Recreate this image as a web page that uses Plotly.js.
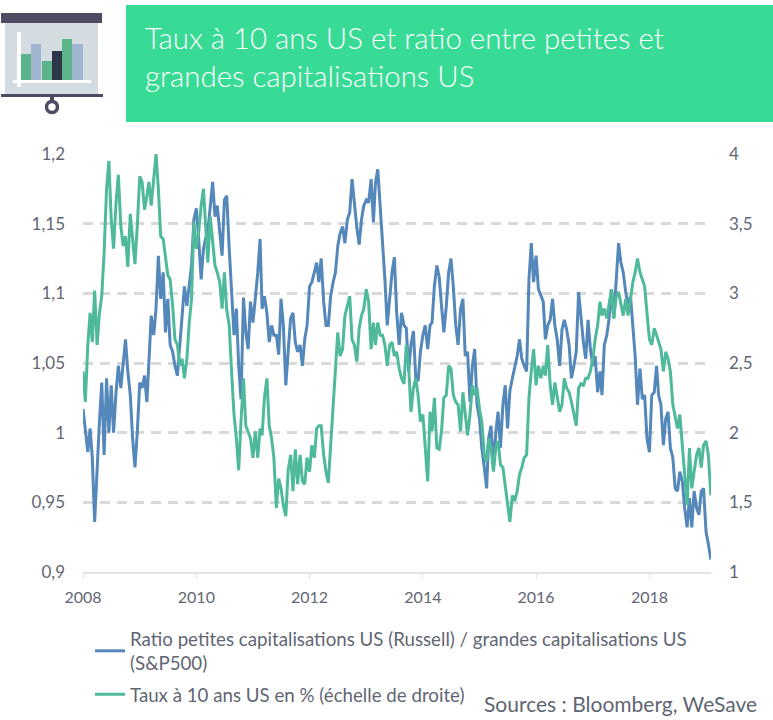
<!DOCTYPE html>
<html>
<head>
<meta charset="utf-8">
<script src="https://cdn.plot.ly/plotly-3.0.1.min.js"></script>
<style>
  html, body { margin: 0; padding: 0; background: #fff; overflow: hidden; height: 720px; }
</style>
</head>
<body>
<!-- the figure is a bit taller than the window so the legend does not squeeze the plot -->
<div style="width:773px;height:720px;overflow:hidden"><div id="chart"></div></div>
<script>
// values, two per month from January 2008
var ratio = [
  1.017, 1.000, 0.986, 1.003, 0.982, 0.936, 0.977, 1.008, 1.036, 0.984, 1.039, 1.000,
  1.034, 1.000, 1.029, 1.048, 1.032, 1.048, 1.067, 1.044, 1.027, 0.996, 0.975, 1.000,
  1.036, 1.032, 1.041, 1.022, 1.050, 1.084, 1.070, 1.089, 1.127, 1.096, 1.115, 1.072,
  1.096, 1.063, 1.058, 1.048, 1.041, 1.063, 1.086, 1.105, 1.091, 1.108, 1.120, 1.153,
  1.161, 1.139, 1.110, 1.132, 1.139, 1.144, 1.165, 1.180, 1.155, 1.163, 1.144, 1.127,
  1.167, 1.170, 1.132, 1.105, 1.070, 1.089, 1.048, 1.024, 1.097, 1.072, 1.060, 1.094,
  1.079, 1.096, 1.115, 1.139, 1.089, 1.098, 1.086, 1.065, 1.077, 1.070, 1.070, 1.056,
  1.096, 1.077, 1.034, 1.058, 1.082, 1.086, 1.065, 1.058, 1.063, 1.048, 1.067, 1.077,
  1.105, 1.108, 1.115, 1.122, 1.108, 1.125, 1.094, 1.077, 1.077, 1.098, 1.108, 1.115,
  1.134, 1.143, 1.148, 1.136, 1.153, 1.158, 1.182, 1.163, 1.147, 1.135, 1.153, 1.163,
  1.167, 1.165, 1.182, 1.151, 1.179, 1.189, 1.163, 1.139, 1.110, 1.077, 1.098, 1.115,
  1.126, 1.086, 1.063, 1.086, 1.077, 1.075, 1.044, 1.063, 1.073, 1.039, 1.037, 1.058,
  1.070, 1.077, 1.060, 1.077, 1.079, 1.105, 1.120, 1.112, 1.091, 1.072, 1.091, 1.115,
  1.125, 1.105, 1.077, 1.063, 1.089, 1.096, 1.055, 1.058, 1.022, 1.048, 1.060, 1.020,
  1.010, 0.989, 0.975, 0.960, 0.996, 1.005, 0.975, 1.000, 1.015, 0.989, 1.020, 1.034,
  1.003, 1.030, 1.039, 1.048, 1.055, 1.067, 1.053, 1.048, 1.044, 1.110, 1.136, 1.108,
  1.127, 1.103, 1.098, 1.094, 1.067, 1.077, 1.081, 1.096, 1.077, 1.067, 1.048, 1.074,
  1.081, 1.074, 1.063, 1.039, 1.048, 1.058, 1.101, 1.081, 1.065, 1.053, 1.081, 1.060,
  1.048, 1.055, 1.029, 1.044, 1.027, 1.063, 1.070, 1.082, 1.103, 1.082, 1.110, 1.136,
  1.122, 1.115, 1.101, 1.091, 1.098, 1.079, 1.055, 1.020, 1.046, 1.024, 1.027, 0.996,
  0.986, 1.027, 1.029, 1.048, 1.027, 1.020, 0.991, 1.010, 1.015, 0.989, 0.982, 0.960,
  0.958, 0.972, 0.965, 0.946, 0.932, 0.953, 0.932, 0.958, 0.946, 0.941, 0.958, 0.960,
  0.929, 0.920, 0.909
];

var rate10y = [
  2.44, 2.22, 2.63, 2.86, 2.65, 3.02, 2.63, 2.86, 2.98, 3.29, 3.75, 3.95,
  3.53, 3.32, 3.65, 3.85, 3.48, 3.34, 3.41, 3.19, 3.57, 3.39, 3.21, 3.48,
  3.84, 3.80, 3.60, 3.70, 3.80, 3.63, 3.84, 4.00, 3.75, 3.41, 3.39, 3.25,
  3.13, 3.10, 2.91, 2.67, 2.63, 2.48, 2.53, 2.39, 2.53, 2.79, 2.96, 3.51,
  3.32, 3.44, 3.63, 3.75, 3.48, 3.22, 3.55, 3.39, 3.20, 3.15, 3.08, 2.89,
  3.15, 2.88, 2.77, 2.44, 2.13, 1.96, 1.73, 2.08, 2.39, 2.05, 2.01, 1.96,
  1.82, 2.01, 1.82, 2.03, 1.98, 2.25, 2.39, 2.05, 1.96, 1.82, 1.46, 1.67,
  1.60, 1.48, 1.40, 1.73, 1.84, 1.58, 1.88, 1.63, 1.84, 1.65, 1.63, 1.82,
  1.72, 1.91, 1.82, 2.03, 2.05, 2.05, 1.84, 1.72, 1.64, 1.91, 2.15, 2.39,
  2.72, 2.55, 2.60, 2.84, 2.91, 2.98, 2.67, 2.63, 2.51, 2.75, 2.84, 2.89,
  3.03, 2.94, 2.60, 2.79, 2.63, 2.79, 2.70, 2.70, 2.63, 2.48, 2.63, 2.65,
  2.55, 2.58, 2.46, 2.39, 2.35, 2.63, 2.48, 2.15, 2.32, 2.39, 2.27, 2.08,
  2.13, 1.91, 1.65, 2.15, 2.01, 2.25, 1.89, 1.88, 2.01, 2.25, 2.27, 2.48,
  2.46, 2.27, 2.22, 2.20, 2.01, 2.29, 2.13, 1.98, 2.13, 2.34, 2.27, 2.32,
  2.17, 2.08, 1.84, 1.79, 1.96, 1.89, 1.72, 1.89, 1.94, 1.77, 1.75, 1.63,
  1.48, 1.36, 1.55, 1.51, 1.58, 1.70, 1.75, 1.82, 1.84, 2.25, 2.44, 2.60,
  2.34, 2.48, 2.39, 2.48, 2.41, 2.63, 2.34, 2.20, 2.36, 2.27, 2.15, 2.20,
  2.39, 2.32, 2.29, 2.22, 2.13, 2.05, 2.32, 2.35, 2.34, 2.39, 2.39, 2.44,
  2.53, 2.67, 2.77, 2.94, 2.84, 2.89, 2.82, 2.94, 3.03, 2.82, 2.98, 3.01,
  2.91, 2.84, 2.96, 2.84, 2.96, 3.08, 3.15, 3.25, 3.15, 3.10, 3.05, 2.86,
  2.67, 2.63, 2.75, 2.70, 2.65, 2.60, 2.44, 2.58, 2.53, 2.44, 2.20, 2.10,
  2.03, 2.13, 1.89, 1.65, 1.48, 1.89, 1.60, 1.72, 1.84, 1.89, 1.75, 1.91,
  1.94, 1.84, 1.55
];

var leftTicks = [0.9, 0.95, 1, 1.05, 1.1, 1.15, 1.2];
var leftLabels = ["0,9", "0,95", "1", "1,05", "1,1", "1,15", "1,2"];
var rightTicks = [1, 1.5, 2, 2.5, 3, 3.5, 4];
var rightLabels = ["1", "1,5", "2", "2,5", "3", "3,5", "4"];

var ratioName = "Ratio petites capitalisations US (Russell) / grandes capitalisations US<br>(S&P500)";
var rateName = "Taux à 10 ans US en % (échelle de droite)";
var titleText = "Taux à 10 ans US et ratio entre petites et<br>grandes capitalisations US";
var sourceText = "Sources : Bloomberg, WeSave";

var BLUE = "#5487ba";
var GREEN = "#4fb99b";
var TEXT = "#5f6673";
var W = 773, H = 750;
var M = {l: 83, r: 62, t: 154, b: 178};

// dates for the two values per month
function halfMonths(n) {
    var ret = [];
    for (var i = 0; i < n; i++) {
        var m = Math.floor(i / 2);
        var year = 2008 + Math.floor(m / 12);
        var month = m % 12 + 1;
        ret.push(year + "-" + (month < 10 ? "0" : "") + month + (i % 2 ? "-16" : "-01"));
    }
    return ret;
}

// page pixels to paper coordinates
function px(x) { return (x - M.l) / (W - M.l - M.r); }
function py(y) { return (H - M.b - y) / (H - M.t - M.b); }

function box(x0, y0, x1, y1, color) {
    return {type: "rect", xref: "paper", yref: "paper", layer: "above",
            x0: px(x0), y0: py(y0), x1: px(x1), y1: py(y1),
            fillcolor: color, line: {width: 0}};
}

// title band and the little presentation board icon
var shapes = [
    box(126, 5, 773, 122, "#38db95"),
    box(5, 23, 98, 94, "#d5dce1"),
    box(1, 13, 102, 23, "#4d4c63"),
    box(21, 54, 31, 80, "#5cb48b"),
    box(31, 44, 41, 80, "#a0b5cf"),
    box(42, 61, 52, 80, "#5cb48b"),
    box(52, 51, 62, 80, "#2d3648"),
    box(62, 39, 72, 80, "#5cb48b"),
    box(72, 44, 83, 80, "#a0b5cf"),
    box(17, 32, 21, 87, "#ffffff"),
    box(13, 80, 91, 83, "#ffffff"),
    box(1, 94, 103, 97, "#4d4c63"),
    box(50, 97, 54, 102, "#4d4c63"),
    {type: "circle", xref: "paper", yref: "paper", layer: "above",
     x0: px(46.5), y0: py(101.5), x1: px(57.5), y1: py(112.5),
     fillcolor: "#ffffff", line: {color: "#4d4c63", width: 3.5}}
];

var annotations = [
    {text: titleText, xref: "paper", yref: "paper", x: px(143), y: py(18),
     xanchor: "left", yanchor: "top", align: "left", showarrow: false,
     font: {family: "Lato", weight: 300, size: 29.4, color: "#ffffff"}},
    {text: sourceText, xref: "paper", yref: "paper", x: px(759), y: py(703),
     xanchor: "right", yanchor: "middle", align: "right", showarrow: false,
     font: {family: "Lato", size: 21, color: TEXT}}
];

var dates = halfMonths(ratio.length);

var traces = [
    {x: dates, y: ratio, type: "scatter", mode: "lines", name: ratioName, legendgroup: "ratio",
     line: {color: BLUE, width: 3}},
    {x: dates, y: rate10y, type: "scatter", mode: "lines", name: rateName, legendgroup: "rate", yaxis: "y2",
     line: {color: GREEN, width: 3}}
];

var layout = {
    width: W,
    height: H,
    margin: M,
    paper_bgcolor: "#fff",
    plot_bgcolor: "#fff",
    font: {family: "Lato", color: TEXT, size: 16},
    showlegend: true,
    legend: {x: px(90), y: py(620), xanchor: "left", yanchor: "top", orientation: "v",
             font: {family: "Lato", size: 18.7, color: TEXT}, itemwidth: 30,
             tracegroupgap: 4, bgcolor: "rgba(0,0,0,0)"},
    xaxis: {type: "date", range: ["2008-01-01", "2019-02-02"], tickvals: ["2008-01-01", "2010-01-01", "2012-01-01", "2014-01-01", "2016-01-01", "2018-01-01"],
            tickformat: "%Y", showgrid: false, showline: true, linecolor: "#e3e3e3", linewidth: 2,
            ticks: "outside", ticklen: 5, tickcolor: "#e3e3e3", tickwidth: 1,
            ticklabelstandoff: 5, zeroline: false},
    yaxis: {range: [0.9, 1.2], tickvals: leftTicks, ticktext: leftLabels, tickfont: {size: 17},
            showgrid: true, gridcolor: "#d9d9d9", gridwidth: 3, griddash: "10px,7px",
            showline: false, zeroline: false, ticks: "", ticklabelstandoff: 17},
    yaxis2: {range: [1, 4], overlaying: "y", side: "right", tickvals: rightTicks, ticktext: rightLabels, tickfont: {size: 17},
             showgrid: false, showline: false, zeroline: false, ticks: "", ticklabelstandoff: 17},
    shapes: shapes,
    annotations: annotations
};

Plotly.newPlot("chart", traces, layout, {displayModeBar: false, responsive: false});
</script>
</body>
</html>
